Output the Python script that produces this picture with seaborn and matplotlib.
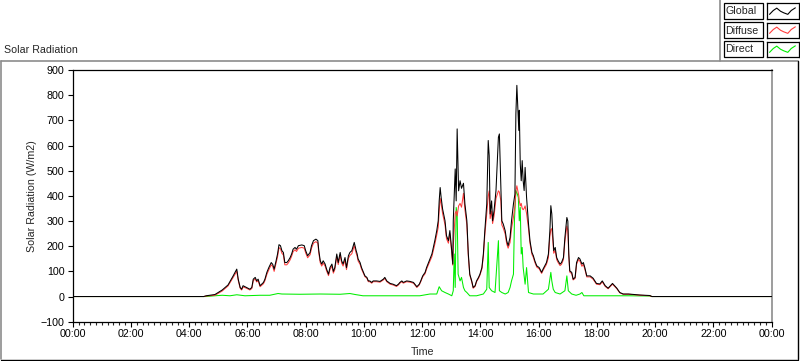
import numpy as np
import pandas as pd
import matplotlib
matplotlib.use("Agg")
import matplotlib.pyplot as plt
import matplotlib.dates as mdates
from matplotlib.lines import Line2D
from matplotlib.patches import Rectangle
import seaborn as sns

sns.set_style("ticks")
plt.rcParams['font.family'] = ['Liberation Sans', 'DejaVu Sans']
plt.rcParams['font.size'] = 7.7

# global / diffuse share one time base, direct has its own
global_times = ["00:00", "04:30", "04:35", "04:53", "05:08", "05:20", "05:30", "05:38", "05:41", "05:45",
                "05:48", "05:51", "05:58", "06:05", "06:09", "06:12", "06:16", "06:19", "06:22", "06:26",
                "06:33", "06:36", "06:40", "06:44", "06:49", "06:52", "06:55", "06:59", "07:02", "07:05",
                "07:08", "07:11", "07:14", "07:17", "07:21", "07:24", "07:28", "07:31", "07:34", "07:38",
                "07:41", "07:45", "07:52", "07:57", "08:00", "08:04", "08:09", "08:12", "08:16", "08:21",
                "08:25", "08:27", "08:30", "08:33", "08:36", "08:40", "08:43", "08:47", "08:50", "08:54",
                "08:57", "09:00", "09:04", "09:07", "09:11", "09:14", "09:17", "09:21", "09:24", "09:28",
                "09:31", "09:35", "09:40", "09:44", "09:46", "09:48", "09:52", "09:55", "09:59", "10:02",
                "10:06", "10:09", "10:12", "10:16", "10:19", "10:26", "10:33", "10:40", "10:43", "10:47",
                "10:54", "11:00", "11:07", "11:11", "11:14", "11:18", "11:21", "11:28", "11:35", "11:42",
                "11:45", "11:49", "11:54", "11:57", "12:01", "12:06", "12:09", "12:13", "12:16", "12:20",
                "12:23", "12:26", "12:30", "12:33", "12:35", "12:37", "12:39", "12:42", "12:47", "12:50",
                "12:54", "12:57", "13:00", "13:03", "13:04", "13:08", "13:10", "13:12", "13:15", "13:18",
                "13:21", "13:25", "13:28", "13:32", "13:35", "13:38", "13:42", "13:45", "13:49", "13:52",
                "13:56", "13:59", "14:03", "14:06", "14:09", "14:13", "14:16", "14:18", "14:20", "14:23",
                "14:25", "14:28", "14:32", "14:37", "14:39", "14:42", "14:44", "14:47", "14:51", "14:54",
                "14:57", "15:01", "15:04", "15:08", "15:11", "15:13", "15:15", "15:17", "15:19", "15:20",
                "15:22", "15:24", "15:26", "15:28", "15:30", "15:32", "15:35", "15:39", "15:42", "15:46",
                "15:49", "15:52", "15:56", "16:01", "16:06", "16:09", "16:16", "16:20", "16:23", "16:25",
                "16:27", "16:29", "16:31", "16:34", "16:37", "16:40", "16:44", "16:47", "16:51", "16:54",
                "16:58", "17:00", "17:02", "17:04", "17:08", "17:11", "17:15", "17:18", "17:22", "17:25",
                "17:29", "17:32", "17:35", "17:39", "17:46", "17:52", "17:59", "18:06", "18:11", "18:17",
                "18:23", "18:32", "18:41", "18:47", "18:54", "19:05", "19:22", "19:29", "19:49", "19:53",
                "24:00"]

global_vals = [0, 0, 3, 8, 26, 46, 80, 109, 69, 36,
               29, 43, 36, 29, 36, 69, 76, 62, 69, 43,
               56, 69, 96, 115, 135, 128, 109, 142, 169, 206,
               202, 182, 175, 135, 135, 142, 155, 169, 188, 195,
               188, 202, 205, 202, 182, 162, 175, 202, 222, 228,
               222, 182, 142, 129, 142, 129, 109, 89, 115, 129,
               100, 115, 169, 135, 175, 142, 129, 155, 115, 162,
               175, 182, 215, 182, 169, 149, 135, 115, 96, 82,
               76, 62, 62, 56, 62, 62, 60, 69, 76, 62,
               52, 49, 43, 49, 56, 62, 56, 62, 60, 56,
               49, 39, 49, 62, 82, 96, 115, 135, 149, 169,
               195, 222, 262, 301, 380, 433, 394, 348, 301, 242,
               222, 262, 200, 129, 300, 507, 380, 666, 420, 460,
               430, 450, 368, 301, 170, 89, 62, 36, 43, 62,
               76, 89, 115, 169, 261, 368, 620, 560, 328, 380,
               301, 341, 421, 633, 646, 434, 301, 288, 261, 222,
               202, 235, 301, 368, 407, 726, 839, 752, 660, 740,
               527, 460, 540, 460, 421, 513, 394, 288, 222, 175,
               162, 142, 122, 115, 96, 109, 135, 169, 261, 361,
               328, 248, 182, 195, 155, 142, 129, 135, 155, 235,
               314, 300, 169, 102, 96, 69, 76, 135, 155, 149,
               129, 135, 115, 82, 82, 73, 52, 50, 62, 43,
               33, 52, 33, 16, 10, 10, 7, 6, 4, 0,
               0]

diffuse_vals = [0, 0, 2, 5, 22, 42, 74, 100, 64, 33,
                26, 38, 33, 26, 32, 63, 70, 58, 63, 39,
                51, 63, 88, 106, 126, 120, 100, 133, 158, 194,
                190, 172, 165, 126, 126, 133, 146, 160, 178, 186,
                179, 192, 195, 192, 173, 154, 166, 192, 212, 218,
                212, 173, 134, 121, 133, 121, 102, 83, 107, 121,
                93, 107, 159, 127, 165, 133, 121, 145, 107, 152,
                163, 170, 202, 172, 160, 141, 128, 109, 92, 79,
                73, 59, 59, 53, 59, 59, 57, 66, 72, 59,
                49, 46, 40, 46, 53, 59, 53, 59, 57, 53,
                46, 36, 46, 59, 78, 91, 109, 127, 140, 159,
                184, 208, 245, 275, 340, 390, 370, 330, 285, 230,
                212, 250, 192, 125, 200, 330, 340, 320, 360, 370,
                355, 410, 345, 285, 160, 85, 59, 33, 40, 59,
                72, 85, 110, 160, 245, 330, 400, 420, 310, 340,
                290, 320, 390, 420, 415, 380, 285, 272, 248, 210,
                192, 215, 270, 315, 360, 420, 440, 420, 400, 380,
                360, 370, 350, 345, 350, 360, 330, 270, 212, 168,
                155, 136, 117, 110, 92, 104, 128, 155, 240, 265,
                270, 225, 172, 183, 147, 135, 123, 128, 147, 220,
                280, 262, 160, 97, 91, 66, 72, 128, 147, 140,
                120, 128, 109, 78, 78, 69, 49, 47, 58, 40,
                31, 49, 31, 15, 9, 9, 6, 5, 3, 0,
                0]

direct_times = ["00:00", "04:35", "04:53", "05:08", "05:24", "05:38", "05:55", "06:26", "06:46", "07:03",
                "07:11", "07:48", "08:30", "09:11", "09:31", "09:42", "09:58", "10:33", "11:14", "11:55",
                "12:16", "12:30", "12:35", "12:40", "12:47", "12:54", "13:01", "13:04", "13:06", "13:08",
                "13:10", "13:12", "13:14", "13:18", "13:21", "13:25", "13:28", "13:32", "13:38", "13:52",
                "14:06", "14:13", "14:16", "14:18", "14:23", "14:30", "14:37", "14:39", "14:44", "14:51",
                "14:57", "15:01", "15:04", "15:08", "15:10", "15:13", "15:16", "15:18", "15:20", "15:22",
                "15:24", "15:26", "15:28", "15:32", "15:35", "15:39", "15:49", "16:09", "16:20", "16:25",
                "16:27", "16:30", "16:34", "16:44", "16:54", "16:58", "17:01", "17:08", "17:17", "17:25",
                "17:29", "17:33", "18:06", "19:08", "19:49", "19:53", "24:00"]

direct_vals = [0, 0, 3, 5, 3, 7, 3, 5, 5, 12,
               10, 9, 10, 9, 12, 8, 3, 3, 3, 3,
               10, 10, 39, 23, 16, 10, 3, 23, 169, 36,
               354, 330, 89, 62, 76, 36, 23, 16, 3, 3,
               10, 29, 215, 36, 23, 16, 222, 23, 16, 10,
               16, 36, 62, 89, 301, 421, 407, 394, 301, 354,
               169, 195, 115, 49, 115, 16, 10, 10, 29, 96,
               62, 29, 16, 10, 23, 82, 23, 10, 5, 10,
               16, 3, 3, 3, 2, 0, 0]

series_names = ["Global", "Diffuse", "Direct"]
series_colors = ["#000000", "#ff3c3c", "#00ee00"]

base = pd.Timestamp("2024-01-01")


def to_time(ts):
    return [base + pd.to_timedelta(t + ":00") for t in ts]


df_global = pd.DataFrame({"time": to_time(global_times), "value": global_vals})
df_diffuse = pd.DataFrame({"time": to_time(global_times), "value": diffuse_vals})
df_direct = pd.DataFrame({"time": to_time(direct_times), "value": direct_vals})

W, H = 800, 361
fig = plt.figure(figsize=(W / 100, H / 100), dpi=100)
fig.patch.set_facecolor("white")


def fx(x):
    return x / W


def fy(y):
    return 1 - y / H


ax = fig.add_axes([fx(72.7), fy(321.7), 699 / W, 251.7 / H])

lw = 0.75
sns.lineplot(data=df_direct, x="time", y="value", ax=ax, color=series_colors[2],
             lw=lw, estimator=None, sort=False, zorder=1)
sns.lineplot(data=df_diffuse, x="time", y="value", ax=ax, color=series_colors[1],
             lw=lw, estimator=None, sort=False, zorder=2)
sns.lineplot(data=df_global, x="time", y="value", ax=ax, color=series_colors[0],
             lw=lw, estimator=None, sort=False, zorder=3)

ax.set_xlim(base, base + pd.Timedelta(days=1))
ax.set_ylim(-100, 900)
ax.set_yticks(np.arange(-100, 901, 100))
ax.xaxis.set_major_locator(mdates.HourLocator(interval=2))
ax.xaxis.set_minor_locator(mdates.MinuteLocator(byminute=[0, 12, 24, 36, 48]))
ax.xaxis.set_major_formatter(mdates.DateFormatter("%H:%M"))
ax.tick_params(axis="both", which="major", length=3.5, width=0.8, pad=2, labelsize=7.7, colors="black")
ax.tick_params(axis="x", which="minor", length=2, width=0.8)
ax.tick_params(axis="y", which="major", pad=2.5)

for side in ["left", "top", "bottom"]:
    ax.spines[side].set_color("black")
    ax.spines[side].set_linewidth(0.9)
ax.spines["right"].set_color("#8c8c8c")
ax.spines["right"].set_linewidth(1.2)

ax.set_xlabel("Time", fontsize=7.7, va="center")
ax.xaxis.set_label_coords(0.5, -30.5 / 251.7)
ax.set_ylabel("Solar Radiation (W/m2)", fontsize=7.7, va="center")
ax.yaxis.set_label_coords(-40.5 / 699, 0.5)

# panel frame
fig.add_artist(Line2D([fx(1), fx(1)], [fy(61), fy(359)], color="#8c8c8c", lw=1.2))
fig.add_artist(Line2D([fx(1), fx(798)], [fy(61), fy(61)], color="#8c8c8c", lw=1.2))
fig.add_artist(Line2D([fx(798), fx(798)], [fy(61), fy(359)], color="black", lw=1.0))
fig.add_artist(Line2D([fx(1), fx(798)], [fy(359.5), fy(359.5)], color="black", lw=1.0))
fig.text(fx(4), fy(50), "Solar Radiation", ha="left", va="center", fontsize=7.7)

# legend panel
fig.add_artist(Line2D([fx(720), fx(720)], [fy(0), fy(61)], color="#8c8c8c", lw=1.2))
row_tops = [3.5, 22.5, 41.5]
for name, color, top in zip(series_names, series_colors, row_tops):
    fig.add_artist(Rectangle((fx(723.5), fy(top + 15.5)), 39 / W, 15.5 / H,
                             transform=fig.transFigure, facecolor="white",
                             edgecolor="black", lw=0.9))
    fig.text(fx(725), fy(top + 8), name, ha="left", va="center", fontsize=7.7)
    lax = fig.add_axes([fx(767), fy(top + 15.5), 31.5 / W, 15.5 / H])
    lax.set_xlim(0, 1)
    lax.set_ylim(0, 1)
    lax.set_xticks([])
    lax.set_yticks([])
    for s in lax.spines.values():
        s.set_color("black")
        s.set_linewidth(0.9)
    lax.plot([0.08, 0.2, 0.31, 0.43, 0.53, 0.66, 0.77, 0.9],
             [0.3, 0.55, 0.7, 0.5, 0.4, 0.3, 0.55, 0.72], color=color, lw=0.8)

fig.savefig("out.png", dpi=100, facecolor="white")
